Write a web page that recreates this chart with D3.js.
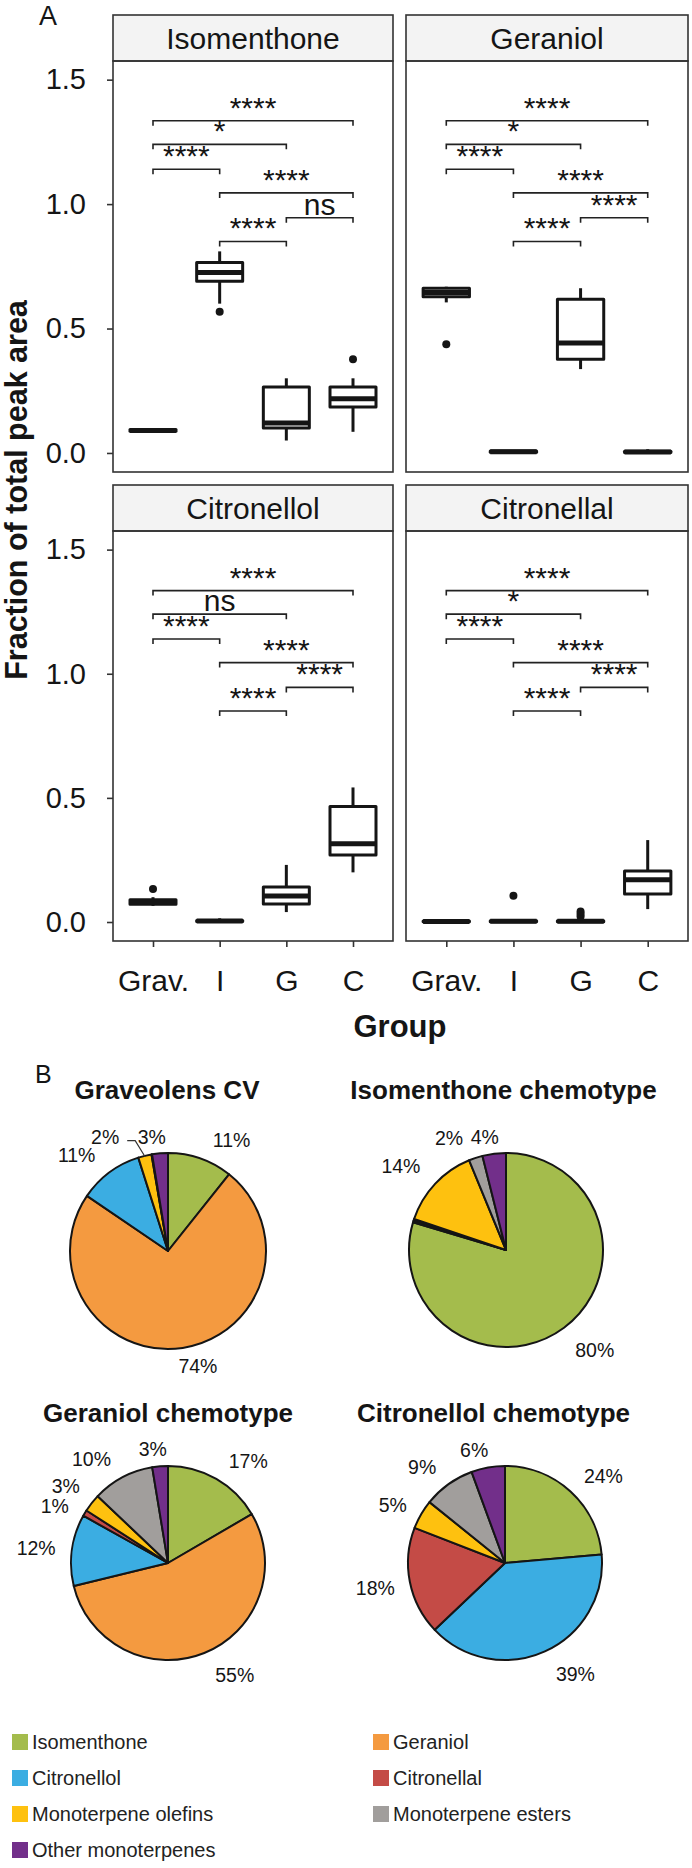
<!DOCTYPE html>
<html><head><meta charset="utf-8">
<script src="https://cdn.jsdelivr.net/npm/d3@7"></script>
<style>
body{margin:0;background:#fff}
svg{display:block}
text{font-family:"Liberation Sans", Arial, Helvetica, sans-serif}
</style>
</head><body>
<svg id="c" width="692" height="1868"></svg>
<script>
// ---------------- DATA ----------------
const groups = ["Grav.", "I", "G", "C"];
const compounds = ["Isomenthone", "Geraniol", "Citronellol", "Citronellal"];
const yTicks = [0, 0.5, 1.0, 1.5];

// box statistics per group: [min, q1, median, q3, max]
const isomenthoneBox = [[0.084,0.087,0.090,0.094,0.097],[0.60,0.69,0.725,0.765,0.81],[0.05,0.10,0.12,0.265,0.30],[0.085,0.185,0.218,0.265,0.30]];
const isomenthoneOut = [[],[0.567],[],[0.377]];
const geraniolBox = [[0.605,0.628,0.645,0.662,0.668],[0.0,0.003,0.005,0.008,0.010],[0.337,0.377,0.442,0.618,0.662],[0.0,0.002,0.004,0.007,0.015]];
const geraniolOut = [[0.437],[],[],[]];
const citronellolBox = [[0.065,0.072,0.080,0.090,0.100],[0.0,0.002,0.004,0.006,0.015],[0.04,0.073,0.105,0.141,0.23],[0.20,0.27,0.315,0.465,0.542]];
const citronellolOut = [[0.133],[],[],[]];
const citronellalBox = [[0.0,0.001,0.002,0.004,0.005],[0.0,0.001,0.003,0.005,0.008],[0.0,0.001,0.003,0.005,0.010],[0.052,0.113,0.17,0.205,0.33]];
const citronellalOut = [[],[0.106],[0.022,0.032,0.042],[]];

// significance comparisons
const bracketPairs = [["Grav.","I"],["Grav.","G"],["Grav.","C"],["I","G"],["I","C"],["G","C"]];
const bracketLevels = [1.14, 1.24, 1.335, 0.85, 1.045, 0.945];
const isomenthoneSig = ["****","*","****","****","****","ns"];
const geraniolSig    = ["****","*","****","****","****","****"];
const citronellolSig = ["****","ns","****","****","****","****"];
const citronellalSig = ["****","*","****","****","****","****"];

// pie data (%)
const pieCategories = ["Isomenthone","Geraniol","Citronellol","Citronellal","Monoterpene olefins","Monoterpene esters","Other monoterpenes"];
const pieTitles = ["Graveolens CV","Isomenthone chemotype","Geraniol chemotype","Citronellol chemotype"];
const graveolensCV     = [10.7, 73.8, 10.6, 0, 2.2, 0.1, 2.6];
const isomenthoneChemo = [79.6, 0.3, 0.3, 0, 13.6, 2.3, 3.9];
const geraniolChemo    = [16.6, 54.6, 11.9, 1.0, 3.0, 10.3, 2.6];
const citronellolChemo = [23.6, 0, 39.3, 18.0, 4.9, 8.6, 5.6];

// ---------------- STYLE / LAYOUT ----------------
const pieColors = ["#a4bc4c","#f49a40","#3bade2","#c44b46","#fec10f","#a19e9c","#722f8a"];
const ink = "#151515";
const boxData = [isomenthoneBox, geraniolBox, citronellolBox, citronellalBox];
const outData = [isomenthoneOut, geraniolOut, citronellolOut, citronellalOut];
const sigData = [isomenthoneSig, geraniolSig, citronellolSig, citronellalSig];

const svg = d3.select("#c");
svg.append("rect").attr("width",692).attr("height",1868).attr("fill","#fff");

const panelX = [[113,393],[406,688]];
const panelY = [[61,472],[531,941]];
const stripH = 46;
const yDomain = [-0.0765, 1.575];

compounds.forEach((name, i) => {
  const col = i % 2, row = Math.floor(i / 2);
  const [x0, x1] = panelX[col], [y0, y1] = panelY[row];
  const x = d3.scalePoint().domain(groups).range([x0, x1]).padding(0.6);
  const y = d3.scaleLinear().domain(yDomain).range([y1, y0]);
  const g = svg.append("g");

  // strip
  g.append("rect").attr("x", x0).attr("y", y0 - stripH).attr("width", x1 - x0).attr("height", stripH)
    .attr("fill", "#f3f3f3").attr("stroke", "#333").attr("stroke-width", 1.6);
  g.append("text").attr("x", (x0 + x1) / 2).attr("y", y0 - stripH / 2).attr("dy", "0.38em")
    .attr("text-anchor", "middle").attr("font-size", 30).attr("fill", ink).text(name);

  // boxes
  const bw = x.step() * 0.69;
  boxData[i].forEach((s, j) => {
    const cx = x(groups[j]);
    g.append("line").attr("x1", cx).attr("x2", cx).attr("y1", y(s[0])).attr("y2", y(s[4]))
      .attr("stroke", ink).attr("stroke-width", 3);
    g.append("rect").attr("x", cx - bw / 2).attr("y", y(s[3])).attr("width", bw)
      .attr("height", Math.max(0, y(s[1]) - y(s[3])))
      .attr("fill", "#fff").attr("stroke", ink).attr("stroke-width", 3).attr("stroke-linejoin", "round");
    g.append("line").attr("x1", cx - bw / 2).attr("x2", cx + bw / 2).attr("y1", y(s[2])).attr("y2", y(s[2]))
      .attr("stroke", ink).attr("stroke-width", 5);
    outData[i][j].forEach(v => {
      g.append("circle").attr("cx", cx).attr("cy", y(v)).attr("r", 4).attr("fill", ink);
    });
  });

  // significance brackets
  bracketPairs.forEach((p, k) => {
    const xa = x(p[0]), xb = x(p[1]), yy = y(bracketLevels[k]);
    g.append("path").attr("d", `M${xa},${yy + 5}V${yy}H${xb}V${yy + 5}`)
      .attr("fill", "none").attr("stroke", "#222").attr("stroke-width", 1.6);
    g.append("text").attr("x", (xa + xb) / 2).attr("y", yy - 3).attr("text-anchor", "middle")
      .attr("font-size", 30).attr("fill", ink).text(sigData[i][k]);
  });

  // panel border
  g.append("rect").attr("x", x0).attr("y", y0).attr("width", x1 - x0).attr("height", y1 - y0)
    .attr("fill", "none").attr("stroke", "#333").attr("stroke-width", 1.6);

  // axes
  if (col === 0) {
    const ax = g.append("g").attr("transform", `translate(${x0},0)`)
      .call(d3.axisLeft(y).tickValues(yTicks).tickFormat(d3.format(".1f")).tickSize(6).tickPadding(21));
    ax.select(".domain").remove();
    ax.selectAll("line").attr("stroke", "#333").attr("stroke-width", 1.6);
    ax.selectAll("text").attr("font-size", 29).attr("fill", ink).attr("font-family", null);
  }
  if (row === 1) {
    const ax = g.append("g").attr("transform", `translate(0,${y1})`)
      .call(d3.axisBottom(x).tickSize(6).tickPadding(23));
    ax.select(".domain").remove();
    ax.selectAll("line").attr("stroke", "#333").attr("stroke-width", 1.6);
    ax.selectAll("text").attr("font-size", 30).attr("fill", ink).attr("font-family", null);
  }
});

// axis titles and panel letters
svg.append("text").attr("transform", "translate(27,490) rotate(-90)").attr("text-anchor", "middle")
  .attr("font-size", 30.5).attr("font-weight", "bold").attr("fill", ink).text("Fraction of total peak area");
svg.append("text").attr("x", 400).attr("y", 1037).attr("text-anchor", "middle")
  .attr("font-size", 31).attr("font-weight", "bold").attr("fill", ink).text("Group");
svg.append("text").attr("x", 39).attr("y", 25).attr("font-size", 27).attr("fill", ink).text("A");
svg.append("text").attr("x", 35).attr("y", 1083).attr("font-size", 25).attr("fill", ink).text("B");

// ---------------- PIES ----------------
const pieValues = [graveolensCV, isomenthoneChemo, geraniolChemo, citronellolChemo];
const pieLayout = [
  {cx: 168, cy: 1251, r: 98, tx: 167, ty: 1099},
  {cx: 506, cy: 1250, r: 97, tx: 503.5, ty: 1099},
  {cx: 168, cy: 1563, r: 97, tx: 168, ty: 1422},
  {cx: 505, cy: 1563, r: 97, tx: 493.5, ty: 1422}
];
const labelNudges = [
  [[22,8],[11,-10],[-16,5],null,[-33,8],null,[-6,12]],
  [[14,0],null,null,null,[-14,2],[-18,7],[-6,11]],
  [[18,6],[20,-4],[-8,2],[-6,7],[-4,0],[-18,6],[-5,11]],
  [[14,5],null,[19,-3],[-7,1],[-4,5],[-10,6],[-9,10]]
];
const leaderLabels = [[4], [], [], []];

const pie = d3.pie().sort(null).value(d => d.v);
pieValues.forEach((vals, p) => {
  const L = pieLayout[p];
  const g = svg.append("g").attr("transform", `translate(${L.cx},${L.cy})`);
  svg.append("text").attr("x", L.tx).attr("y", L.ty).attr("text-anchor", "middle")
    .attr("font-size", 26).attr("font-weight", "bold").attr("fill", ink).text(pieTitles[p]);
  const arcs = pie(vals.map((v, k) => ({v, k})));
  const arc = d3.arc().innerRadius(0).outerRadius(L.r);
  g.selectAll("path.slice").data(arcs.filter(a => a.data.v > 0)).join("path")
    .attr("class", "slice").attr("d", arc).attr("fill", a => pieColors[a.data.k])
    .attr("stroke", ink).attr("stroke-width", 2).attr("stroke-linejoin", "round");
  const R = L.r + 28;
  arcs.forEach(a => {
    if (a.data.v < 0.5) return;
    const mid = (a.startAngle + a.endAngle) / 2;
    const n = labelNudges[p][a.data.k] || [0, 0];
    const lx = R * Math.sin(mid) + n[0], ly = -R * Math.cos(mid) + n[1];
    g.append("text").attr("x", lx).attr("y", ly).attr("dy", "0.36em").attr("text-anchor", "middle")
      .attr("font-size", 19.5).attr("fill", ink).text(Math.round(a.data.v) + "%");
    if (leaderLabels[p].includes(a.data.k)) {
      const ex = (L.r - 1) * Math.sin(mid), ey = -(L.r - 1) * Math.cos(mid);
      g.append("path").attr("d", `M${lx + 22},${ly + 4}H${lx + 30}L${ex},${ey}`)
        .attr("fill", "none").attr("stroke", "#333").attr("stroke-width", 1.2);
    }
  });
});

// ---------------- LEGEND ----------------
const legendCols = [12, 373];
pieCategories.forEach((c, k) => {
  const lx = legendCols[k % 2], ly = 1742 + Math.floor(k / 2) * 36;
  svg.append("rect").attr("x", lx).attr("y", ly - 8).attr("width", 16).attr("height", 16).attr("fill", pieColors[k]);
  svg.append("text").attr("x", lx + 20).attr("y", ly).attr("dy", "0.36em")
    .attr("font-size", 20).attr("fill", "#222").text(c);
});
</script>
</body></html>
